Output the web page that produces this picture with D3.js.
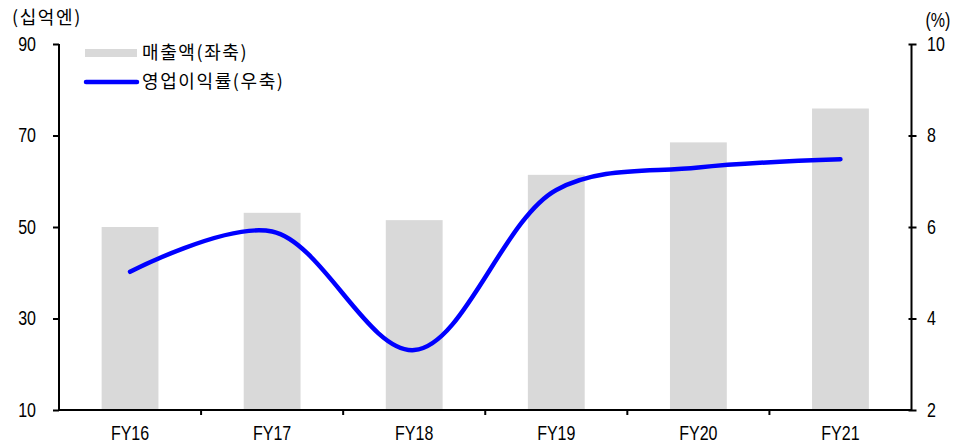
<!DOCTYPE html>
<html><head><meta charset="utf-8">
<script src="https://cdn.jsdelivr.net/npm/d3@7"></script>
<style>
body{margin:0;background:#fff;}
text{fill:#000;}
.num{font-family:"Liberation Sans",Arial,sans-serif;font-size:20px;}
.kr{font-family:"Noto Sans CJK KR","Liberation Sans",sans-serif;font-size:18px;letter-spacing:1.6px;}
</style></head>
<body><svg id="c" width="968" height="445"></svg>
<script>
const categories = ["FY16","FY17","FY18","FY19","FY20","FY21"];
const sales = [50.0, 53.1, 51.5, 61.4, 68.5, 75.9];
const margin = [5.02, 5.90, 3.31, 6.81, 7.30, 7.48];
const leftTicks = [10,30,50,70,90];
const rightTicks = [2,4,6,8,10];
const salesLabel = "매출액(좌축)";
const marginLabel = "영업이익률(우축)";
const leftUnit = "(십억엔)";
const rightUnit = "(%)";

const SX = 0.8; // horizontal condensing of numeric labels
const svg = d3.select("#c");
const L = 59, R = 911.5, T = 44, B = 410;
const x = d3.scaleBand().domain(categories).range([L, R]).paddingInner(0.6).paddingOuter(0.3);
const xc = d3.scaleBand().domain(categories).range([L, R]);
const yL = d3.scaleLinear().domain([10, 90]).range([B, T]);
const yR = d3.scaleLinear().domain([2, 10]).range([B, T]);

// bars
svg.append("g").selectAll("rect").data(categories).join("rect")
  .attr("x", d => x(d)).attr("width", x.bandwidth())
  .attr("y", (d,i) => yL(sales[i])).attr("height", (d,i) => B - yL(sales[i]))
  .attr("fill", "#d9d9d9");

// axes
const gl = svg.append("g").attr("transform", `translate(${L},0)`)
  .call(d3.axisLeft(yL).tickValues(leftTicks).tickSize(6));
const gr = svg.append("g").attr("transform", `translate(${R},0)`)
  .call(d3.axisRight(yR).tickValues(rightTicks).tickSize(5));
const gb = svg.append("g").attr("transform", `translate(0,${B})`)
  .call(d3.axisBottom(xc).tickSize(0));
// category boundary ticks
svg.append("g").selectAll("line").data(categories.slice(1)).join("line")
  .attr("x1", d => xc(d)).attr("x2", d => xc(d))
  .attr("y1", B).attr("y2", B + 5).attr("stroke", "#000").attr("stroke-width", 2);
[gl, gr, gb].forEach(g => {
  g.attr("font-family", null).attr("font-size", null);
  g.selectAll("path").attr("stroke", "#000").attr("stroke-width", 2);
  g.selectAll("line").attr("stroke", "#000").attr("stroke-width", 2);
  g.selectAll("text").attr("class", "num");
});
gl.selectAll(".tick text").attr("x", -23 / SX).attr("dy", "0.30em").attr("transform", `scale(${SX},1)`);
gr.selectAll(".tick text").attr("x", 15.5 / SX).attr("dy", "0.30em").attr("transform", `scale(${SX},1)`);
gb.selectAll(".tick text").attr("y", 0).attr("dy", "30.5").attr("transform", `scale(${SX},1)`);
gl.select("path.domain").attr("d", `M0,${B}V${T}`);
gb.select("path.domain").attr("d", `M${L},0H${R}`);
gr.select("path.domain").attr("d", `M0,${B}V${T}`);
gr.selectAll(".tick line").attr("x1", -3);

// line
const line = d3.line()
  .x((d,i) => xc(categories[i]) + xc.bandwidth()/2)
  .y(d => yR(d))
  .curve(d3.curveCatmullRom.alpha(0.5));
svg.append("path").datum(margin).attr("d", line)
  .attr("fill", "none").attr("stroke", "#0000ff").attr("stroke-width", 4.5)
  .attr("stroke-linecap", "round");

// unit labels
svg.append("text").attr("class","kr").attr("x", 12).attr("y", 24).text(leftUnit);
svg.append("text").attr("class","num").attr("transform", `scale(${SX},1)`)
  .attr("x", 925.5 / SX).attr("y", 27).text(rightUnit);

// legend
svg.append("rect").attr("x", 85).attr("y", 49).attr("width", 52).attr("height", 8).attr("fill", "#d9d9d9");
svg.append("text").attr("class","kr").attr("x", 142).attr("y", 59).text(salesLabel);
svg.append("line").attr("x1", 86).attr("x2", 137).attr("y1", 82).attr("y2", 82)
  .attr("stroke", "#0000ff").attr("stroke-width", 4.5).attr("stroke-linecap","round");
svg.append("text").attr("class","kr").attr("x", 142).attr("y", 88).text(marginLabel);
</script></body></html>
